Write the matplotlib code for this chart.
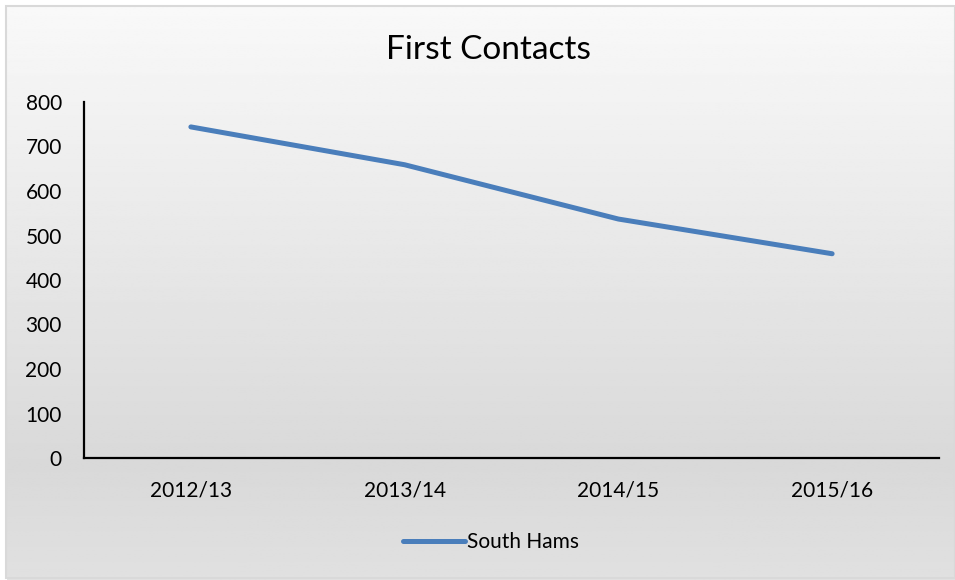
import matplotlib
matplotlib.use("Agg")
import matplotlib.pyplot as plt
import numpy as np
from matplotlib.patches import Rectangle
from matplotlib.lines import Line2D

categories = ["2012/13", "2013/14", "2014/15", "2015/16"]
south_hams = [744, 659, 537, 459]
y_ticks = [0, 100, 200, 300, 400, 500, 600, 700, 800]

plt.rcParams['font.family'] = ['Lato', 'DejaVu Sans']

W, H = 955, 580
fig = plt.figure(figsize=(W / 100, H / 100), dpi=100)
fig.patch.set_facecolor("white")

# background gradient
bg = fig.add_axes([0, 0, 1, 1], zorder=0)
ys = np.linspace(0, 1, 300)
top, mid, bot = 0.975, 0.85, 0.88
vals = np.where(ys < 0.8, top + (mid - top) * ys / 0.8, mid + (bot - mid) * (ys - 0.8) / 0.2)
grad = np.tile(vals[:, None], (1, 2))
bg.imshow(grad, cmap="gray", vmin=0, vmax=1, aspect="auto",
          extent=[7 / W, 1, 0, 1 - 7 / H], origin="upper")
bg.set_xlim(0, 1)
bg.set_ylim(0, 1)
bg.add_patch(Rectangle((6 / W, 2 / H), 1 - 6 / W, 1 - 8 / H, fill=False,
                       edgecolor="#d9d9d9", linewidth=1.5))
bg.axis("off")

left, right = 84 / W, 939 / W
bottom, topy = 1 - 458 / H, 1 - 102 / H
ax = fig.add_axes([left, bottom, right - left, topy - bottom], zorder=1)
ax.patch.set_alpha(0)
x = np.arange(len(categories))
ax.plot(x, south_hams, color="#4a7ebb", linewidth=3.6, solid_capstyle="round",
        solid_joinstyle="round", label="South Hams")
ax.set_xlim(-0.5, len(categories) - 0.5)
ax.set_ylim(0, 800)
ax.set_yticks(y_ticks)
ax.set_xticks(x)
ax.set_xticklabels(categories)
ax.tick_params(axis="both", length=0, labelsize=15, colors="#000000")
ax.tick_params(axis="y", pad=16)
ax.tick_params(axis="x", pad=16)
for s in ["top", "right"]:
    ax.spines[s].set_visible(False)
for s in ["left", "bottom"]:
    ax.spines[s].set_linewidth(1.6)
    ax.spines[s].set_color("black")

fig.text(488 / W, 1 - 50 / H, "First Contacts", ha="center", va="center",
         fontsize=24, color="black")

leg = ax.legend(handles=[Line2D([0], [0], color="#4a7ebb", linewidth=3.6, solid_capstyle="round")],
                labels=["South Hams"], loc="center", bbox_to_anchor=(491 / W, 1 - 542 / H),
                bbox_transform=fig.transFigure, frameon=False, fontsize=15,
                handlelength=3.0, handletextpad=0.1)

fig.savefig("out.png", dpi=100)
